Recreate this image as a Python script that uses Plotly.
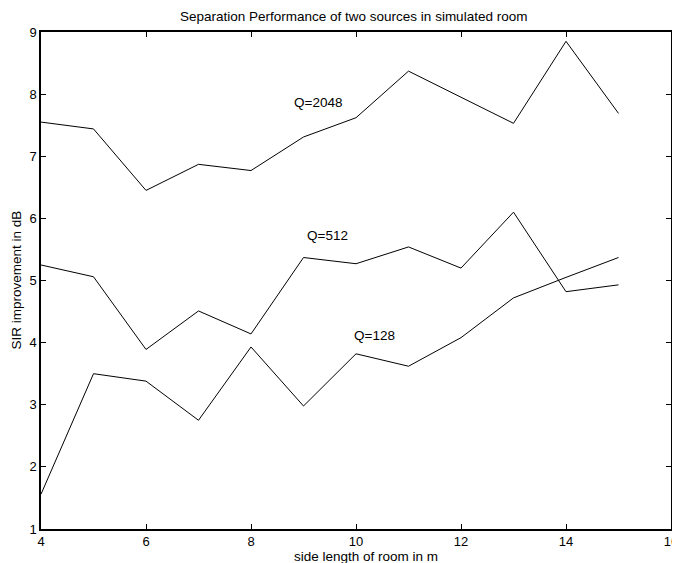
import plotly.graph_objects as go

room_size = [4, 5, 6, 7, 8, 9, 10, 11, 12, 13, 14, 15]
sir_q2048 = [7.55, 7.44, 6.45, 6.87, 6.77, 7.31, 7.62, 8.37, 7.95, 7.53, 8.85, 7.69]
sir_q512 = [5.25, 5.06, 3.89, 4.51, 4.14, 5.37, 5.27, 5.54, 5.20, 6.10, 4.82, 4.93]
sir_q128 = [1.56, 3.50, 3.38, 2.75, 3.93, 2.98, 3.82, 3.62, 4.08, 4.72, 5.05, 5.37]

labels = ["Q=2048", "Q=512", "Q=128"]
label_x = [9.28, 9.45, 10.36]
label_y = [7.86, 5.73, 4.11]

x_ticks = [4, 6, 8, 10, 12, 14, 16]
y_ticks = [1, 2, 3, 4, 5, 6, 7, 8, 9]

FONT = "Liberation Sans, Arial, Helvetica, sans-serif"
OFF = 8  # page body margin
# plot area in page pixels
PX0, PX1, PY0, PY1 = 41, 671, 32, 529
W, H = 680 - OFF, 563 - OFF
L, T = PX0 - OFF, PY0 - OFF
R, B = W - (PX1 - OFF), H - (PY1 - OFF)
PW, PH = PX1 - PX0, PY1 - PY0

fig = go.Figure()
for ys in (sir_q2048, sir_q512, sir_q128):
    fig.add_trace(go.Scatter(x=room_size, y=ys, mode="lines",
                             line=dict(color="black", width=1), showlegend=False))

for t, lx, ly in zip(labels, label_x, label_y):
    fig.add_annotation(x=lx, y=ly, text=t, showarrow=False,
                       font=dict(family=FONT, size=13.5, color="black"))

axis_common = dict(showline=True, linecolor="black", linewidth=1.5, mirror="ticks",
                   ticks="inside", ticklen=5, tickcolor="black", tickwidth=1,
                   showgrid=False, zeroline=False, automargin=False,
                   tickfont=dict(family=FONT, size=13, color="black"))

fig.update_xaxes(range=[4, 16], tickvals=x_ticks, **axis_common)
fig.update_yaxes(range=[1, 9], tickvals=y_ticks, **axis_common)

fig.add_annotation(text="Separation Performance of two sources in simulated room",
                   xref="paper", yref="paper", x=(353 - PX0) / PW, y=1 + (PY0 - OFF) / PH,
                   xanchor="center", yanchor="top", showarrow=False, borderpad=0,
                   font=dict(family=FONT, size=13.5, color="black"))
fig.add_annotation(text="side length of room in m",
                   xref="paper", yref="paper", x=(366 - PX0) / PW, y=-(556 - PY1) / PH,
                   xanchor="center", yanchor="middle", showarrow=False,
                   font=dict(family=FONT, size=13.5, color="black"))
fig.add_annotation(text="SIR improvement in dB",
                   xref="paper", yref="paper", x=(16 - PX0) / PW, y=0.5, textangle=-90,
                   xanchor="center", yanchor="middle",
                   showarrow=False, font=dict(family=FONT, size=13.5, color="black"))

fig.update_layout(width=W, height=H, margin=dict(l=L, r=R, t=T, b=B),
                  plot_bgcolor="white", paper_bgcolor="white")

fig.write_html("out.html")
